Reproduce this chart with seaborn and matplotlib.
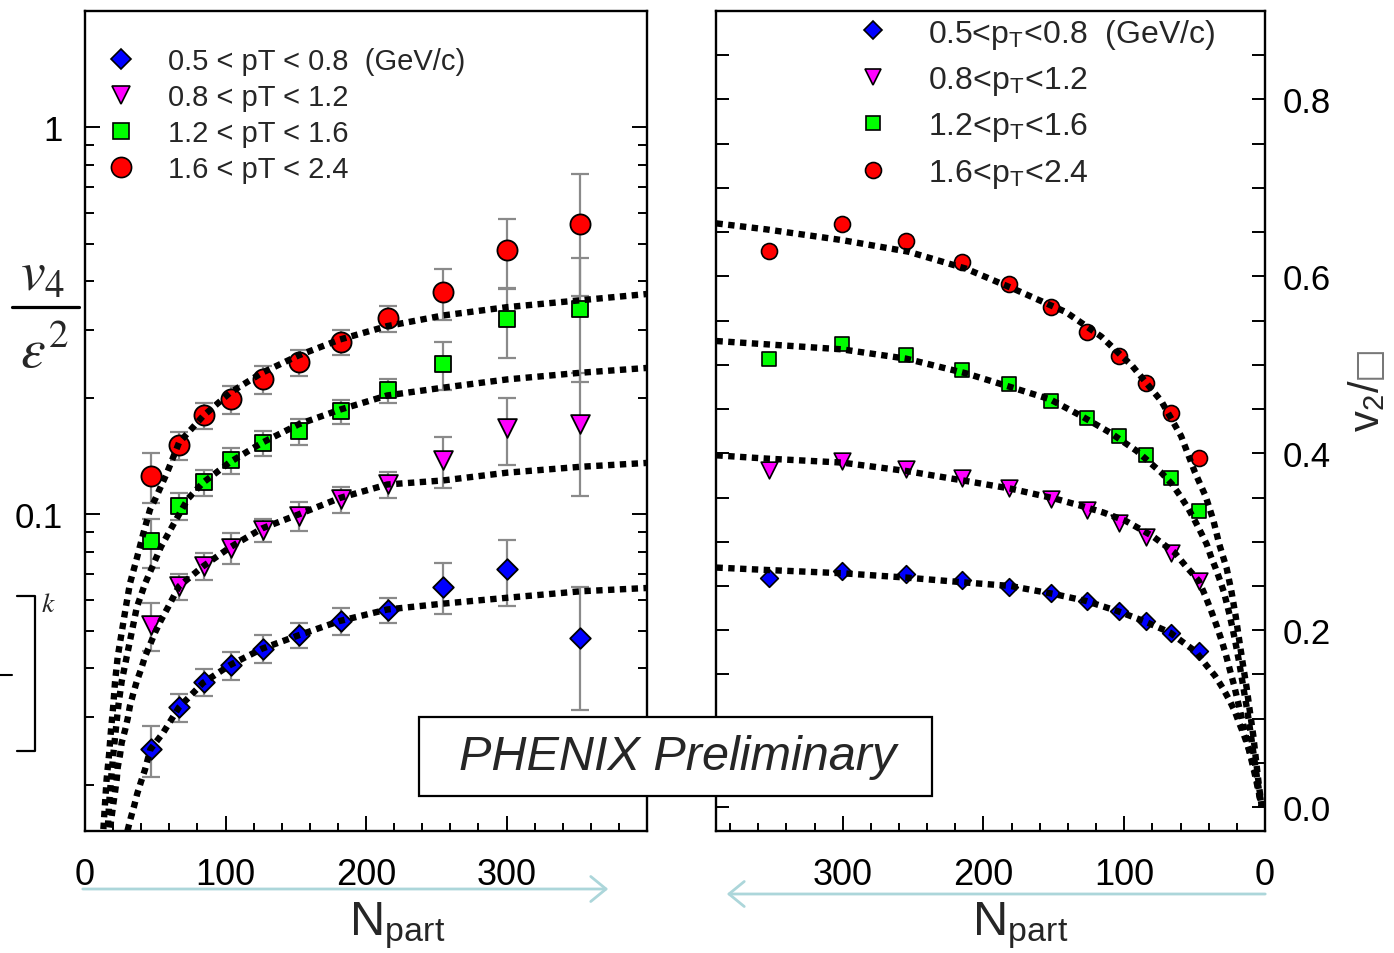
import matplotlib
matplotlib.use("Agg")
import matplotlib.pyplot as plt
import seaborn as sns
from matplotlib.lines import Line2D
from matplotlib.patches import Rectangle, FancyArrowPatch
from matplotlib.ticker import FixedLocator, MultipleLocator, LogLocator, NullFormatter

# ---------------------------------------------------------------- data
# centrality classes (number of participants)
npart = [47, 67, 84.5, 104, 126.5, 152, 182, 215.5, 255, 300.5, 352.5]

pt_bins = ["0.5 < pT < 0.8  (GeV/c)", "0.8 < pT < 1.2", "1.2 < pT < 1.6", "1.6 < pT < 2.4"]
pt_bins_r = [r"0.5<p$_\mathregular{T}$<0.8  (GeV/c)", r"0.8<p$_\mathregular{T}$<1.2",
             r"1.2<p$_\mathregular{T}$<1.6", r"1.6<p$_\mathregular{T}$<2.4"]

# v4 / eps^2 (left panel) with statistical errors
v4_blue = [0.0247, 0.0317, 0.0369, 0.0408, 0.0450, 0.0487, 0.0530, 0.0566, 0.0650, 0.0721, 0.0480]
v4_blue_err = [0.0037, 0.0026, 0.0029, 0.0034, 0.0037, 0.0036, 0.0042, 0.0042, 0.0098, 0.0140, 0.0168]
v4_mag = [0.0517, 0.0652, 0.0736, 0.0819, 0.0909, 0.0990, 0.1093, 0.1195, 0.1379, 0.1675, 0.1715]
v4_mag_err = [0.0074, 0.0051, 0.0060, 0.0074, 0.0062, 0.0086, 0.0086, 0.0094, 0.0210, 0.0330, 0.0600]
v4_green = [0.0852, 0.1049, 0.1210, 0.1379, 0.1526, 0.1639, 0.1846, 0.2091, 0.2441, 0.3190, 0.3405]
v4_green_err = [0.0124, 0.0084, 0.0092, 0.0104, 0.0113, 0.0130, 0.0132, 0.0146, 0.0350, 0.0650, 0.1200]
v4_red = [0.1254, 0.1508, 0.1803, 0.1982, 0.2233, 0.2470, 0.2782, 0.3209, 0.3747, 0.4810, 0.5615]
v4_red_err = [0.0185, 0.0124, 0.0136, 0.0160, 0.0180, 0.0190, 0.0206, 0.0240, 0.0560, 0.0980, 0.1950]

# v2 / eps (right panel)
v2_blue = [0.1766, 0.1974, 0.2105, 0.2218, 0.2331, 0.2426, 0.2494, 0.2565, 0.2633, 0.2670, 0.2595]
v2_mag = [0.2557, 0.2870, 0.3059, 0.3209, 0.3359, 0.3480, 0.3612, 0.3718, 0.3819, 0.3913, 0.3811]
v2_green = [0.3348, 0.3725, 0.3981, 0.4195, 0.4403, 0.4591, 0.4780, 0.4938, 0.5107, 0.5240, 0.5070]
v2_red = [0.3951, 0.4452, 0.4791, 0.5096, 0.5367, 0.5650, 0.5910, 0.6158, 0.6395, 0.6588, 0.6282]

# fit curves, left panel
fitL_red_n = [402, 353.0, 300.4, 254.8, 215.0, 181.5, 152.0, 126.0, 103.2, 84.0, 66.9, 58.4, 50.5, 46.3,
              41.5, 36.8, 32.0, 29.0, 26.1, 23.3, 21.4, 20.1, 18.5, 17.1, 15.4, 14.2, 13.0, 12.5]
fitL_red = [0.3718, 0.3578, 0.3433, 0.3267, 0.3066, 0.2832, 0.2575, 0.2323, 0.2063, 0.1795, 0.1532, 0.1282,
            0.1106, 0.1030, 0.0893, 0.0768, 0.0663, 0.0574, 0.0495, 0.0429, 0.0370, 0.0320, 0.0277, 0.0239,
            0.0207, 0.0178, 0.0152, 0.0141]
fitL_green_n = [402, 353.0, 300.4, 254.8, 215.2, 181.8, 152.0, 126.0, 103.2, 84.0, 73.3, 63.6, 54.1, 42.7,
                36.8, 33.2, 29.7, 26.1, 23.7, 21.9, 20.1, 18.5, 17.1, 16.2, 15.7]
fitL_green = [0.2394, 0.2324, 0.2233, 0.2126, 0.2030, 0.1867, 0.1709, 0.1532, 0.1365, 0.1208, 0.1098, 0.0952,
              0.0825, 0.0662, 0.0574, 0.0495, 0.0429, 0.0370, 0.0320, 0.0277, 0.0239, 0.0207, 0.0178, 0.0154,
              0.0141]
fitL_mag_n = [402, 353.0, 300.4, 254.8, 215.2, 181.8, 152.0, 126.0, 103.2, 84.0, 66.9, 58.9, 54.1, 49.8, 46.3,
              42.7, 39.9, 36.8, 34.4, 32.0, 30.4, 28.5, 26.1, 24.9, 23.3, 22.6, 21.4, 20.1, 19.0, 17.8, 17.2]
fitL_mag = [0.1360, 0.1328, 0.1282, 0.1224, 0.1195, 0.1104, 0.1000, 0.0920, 0.0822, 0.0734, 0.0652, 0.0574,
            0.0533, 0.0495, 0.0461, 0.0429, 0.0398, 0.0370, 0.0345, 0.0320, 0.0297, 0.0277, 0.0257, 0.0239,
            0.0222, 0.0207, 0.0192, 0.0178, 0.0166, 0.0154, 0.0145]
fitL_blue_n = [402, 353.0, 300.4, 254.8, 215.2, 181.0, 152.0, 126.2, 103.2, 84.0, 66.8, 55.7, 46.5, 42.7,
               39.9, 37.2, 34.9, 32.5, 30.4, 29.5]
fitL_blue = [0.0646, 0.0633, 0.0609, 0.0588, 0.0568, 0.0530, 0.0487, 0.0450, 0.0408, 0.0367, 0.0317, 0.0273,
             0.0247, 0.0219, 0.0204, 0.0190, 0.0176, 0.0164, 0.0153, 0.0147]

# fit curves, right panel
fitR_red_n = [389.7, 354.1, 300.5, 253.3, 212.4, 177.7, 141.5, 116.3, 94.2, 73.7, 59.6, 49.7, 42.1, 36.7,
              32.5, 27.2, 23.7, 20.8, 18.3, 15.8, 13.0, 10.7, 8.3, 6.4, 4.5, 2.3]
fitR_red = [0.6599, 0.6531, 0.6410, 0.6279, 0.6087, 0.5853, 0.5597, 0.5319, 0.4986, 0.4591, 0.4195, 0.3782,
            0.3511, 0.3243, 0.2972, 0.2697, 0.2426, 0.2155, 0.1887, 0.1624, 0.1345, 0.1077, 0.0806, 0.0534,
            0.0268, 0.0]
fitR_green_n = [389.7, 354.1, 300.5, 255.0, 212.4, 179.3, 152.7, 130.4, 110.1, 91.1, 73.7, 65.6, 59.9, 54.5,
                49.7, 45.5, 41.4, 38.4, 35.0, 32.0, 29.1, 24.9, 21.3, 18.1, 15.3, 12.4, 9.9, 7.5, 5.0, 2.3]
fitR_green = [0.5269, 0.5232, 0.5175, 0.5070, 0.4904, 0.4742, 0.4610, 0.4421, 0.4234, 0.4026, 0.3782, 0.3642,
              0.3511, 0.3375, 0.3235, 0.3104, 0.2972, 0.2833, 0.2697, 0.2565, 0.2426, 0.2158, 0.1887, 0.1616,
              0.1345, 0.1073, 0.0802, 0.0531, 0.0260, 0.0]
fitR_mag_n = [389.7, 354.1, 300.5, 255.0, 212.4, 180.9, 149.3, 130.4, 114.7, 98.9, 80.1, 64.3, 56.4, 47.0,
              42.6, 38.4, 34.5, 30.9, 27.7, 24.9, 22.0, 19.5, 17.0, 14.6, 12.1, 9.6, 7.1, 4.6, 2.3]
fitR_mag = [0.3977, 0.3940, 0.3895, 0.3800, 0.3687, 0.3601, 0.3488, 0.3405, 0.3330, 0.3235, 0.3066, 0.2878,
            0.2727, 0.2557, 0.2395, 0.2226, 0.2056, 0.1887, 0.1718, 0.1548, 0.1379, 0.1209, 0.1040, 0.0870,
            0.0701, 0.0531, 0.0362, 0.0181, 0.0]
fitR_blue_n = [389.7, 354.1, 300.5, 255.0, 212.4, 180.9, 149.3, 127.3, 105.1, 86.3, 67.5, 54.8, 49.0, 41.9,
               35.5, 30.0, 25.4, 21.3, 18.3, 14.9, 11.9, 9.4, 7.1, 5.5, 4.0, 2.3]
fitR_blue = [0.2708, 0.2681, 0.2644, 0.2595, 0.2539, 0.2500, 0.2407, 0.2331, 0.2218, 0.2105, 0.1974, 0.1823,
             0.1755, 0.1608, 0.1484, 0.1345, 0.1213, 0.1077, 0.0949, 0.0814, 0.0675, 0.0542, 0.0410, 0.0271,
             0.0136, 0.0]

# ---------------------------------------------------------------- style
sns.set_theme(style="ticks")
plt.rcParams["font.family"] = ["Liberation Sans", "DejaVu Sans"]
plt.rcParams["mathtext.fontset"] = "stix"
plt.rcParams["axes.edgecolor"] = "black"
plt.rcParams["xtick.color"] = "black"
plt.rcParams["ytick.color"] = "black"
SANS = ["Liberation Sans", "DejaVu Sans"]

W, H = 1394, 954


def fx(x):
    return x / W


def fy(y):
    return 1 - y / H


fig = plt.figure(figsize=(W / 100, H / 100), dpi=100)
axL = fig.add_axes([fx(85), fy(832), (647 - 85) / W, (832 - 12) / H])
axR = fig.add_axes([fx(716), fy(832), (1265 - 716) / W, (832 - 12) / H])

colors = {"blue": "#0000ff", "mag": "#ff00ff", "green": "#00ff00", "red": "#ff0000"}
series_L = [("blue", "D", 10.5, v4_blue, v4_blue_err, fitL_blue_n, fitL_blue),
            ("mag", "v", 13.5, v4_mag, v4_mag_err, fitL_mag_n, fitL_mag),
            ("green", "s", 11.5, v4_green, v4_green_err, fitL_green_n, fitL_green),
            ("red", "o", 14.5, v4_red, v4_red_err, fitL_red_n, fitL_red)]
series_R = [("blue", "D", 9.0, v2_blue, fitR_blue_n, fitR_blue),
            ("mag", "v", 12.0, v2_mag, fitR_mag_n, fitR_mag),
            ("green", "s", 9.5, v2_green, fitR_green_n, fitR_green),
            ("red", "o", 11.5, v2_red, fitR_red_n, fitR_red)]

DOT = (0, (1, 0.85))
FIT_LW = 4.6

# ---------------------------------------------------------------- left panel
for key, mk, ms, vals, err, fn, fv in series_L:
    axL.errorbar(npart, vals, yerr=err, fmt="none", ecolor="#8a8a8a", elinewidth=1.6,
                 capsize=6.5, capthick=1.6, zorder=2)
    sns.scatterplot(x=npart, y=vals, marker=mk, s=ms ** 2, color=colors[key], edgecolor="black",
                    linewidth=1.3, ax=axL, zorder=3, legend=False)
for key, mk, ms, vals, err, fn, fv in series_L:
    sns.lineplot(x=fn, y=fv, ax=axL, color="black", lw=FIT_LW, linestyle=DOT, estimator=None,
                 sort=False, zorder=4, legend=False)

axL.set_yscale("log")
axL.set_xlim(0, 400)
axL.set_ylim(0.0152, 2.0)
axL.yaxis.set_major_locator(FixedLocator([0.1, 1.0]))
axL.set_yticks([0.1, 1.0], ["0.1", "1"], fontsize=25)
axL.yaxis.set_minor_locator(LogLocator(base=10, subs=[2, 3, 4, 5, 6, 7, 8, 9]))
axL.yaxis.set_minor_formatter(NullFormatter())
axL.set_xticks([0, 100, 200, 300], ["0", "100", "200", "300"], fontsize=26)
axL.xaxis.set_minor_locator(MultipleLocator(20))

# ---------------------------------------------------------------- right panel
for key, mk, ms, vals, fn, fv in series_R:
    sns.scatterplot(x=npart, y=vals, marker=mk, s=ms ** 2, color=colors[key], edgecolor="black",
                    linewidth=1.2, ax=axR, zorder=3, legend=False)
for key, mk, ms, vals, fn, fv in series_R:
    sns.lineplot(x=fn, y=fv, ax=axR, color="black", lw=FIT_LW, linestyle=DOT, estimator=None,
                 sort=False, zorder=4, legend=False)

axR.set_xlim(390, 0)
axR.set_ylim(-0.027, 0.9)
axR.set_yticks([0.0, 0.2, 0.4, 0.6, 0.8], ["0.0", "0.2", "0.4", "0.6", "0.8"], fontsize=25)
axR.yaxis.set_minor_locator(MultipleLocator(0.05))
axR.set_xticks([0, 100, 200, 300], ["0", "100", "200", "300"], fontsize=26)
axR.xaxis.set_minor_locator(MultipleLocator(20))

for ax in (axL, axR):
    ax.set_xlabel("")
    ax.set_ylabel("")
    for sp in ax.spines.values():
        sp.set_linewidth(1.7)
        sp.set_visible(True)
    ax.tick_params(axis="x", which="both", direction="in", top=False, bottom=True, width=1.4, pad=19)
    ax.tick_params(axis="x", which="major", length=10.5)
    ax.tick_params(axis="x", which="minor", length=6)

axL.tick_params(axis="y", which="both", direction="in", left=True, right=True, width=1.4, pad=16)
axL.tick_params(axis="y", which="major", length=10.5)
axL.tick_params(axis="y", which="minor", length=6.5)
axR.tick_params(axis="y", which="both", direction="in", left=True, right=True, labelleft=False,
                labelright=True, width=1.4, length=9.5, pad=13)

# ---------------------------------------------------------------- legends
def handles(series, scale):
    out = []
    for s in series:
        out.append(Line2D([], [], linestyle="none", marker=s[1], markersize=s[2] * scale,
                          markerfacecolor=colors[s[0]], markeredgecolor="black", markeredgewidth=1.2))
    return out


legL = axL.legend(handles(series_L, 1.0), pt_bins, loc="upper left",
                  bbox_to_anchor=((106.4 - 85) / 562, (832 - 48.5) / 820), frameon=False, fontsize=21,
                  handlelength=1.0, handletextpad=1.11, labelspacing=0.27, borderpad=0, borderaxespad=0)
legR = axR.legend(handles(series_R, 1.0), pt_bins_r, loc="upper left",
                  bbox_to_anchor=((857 - 716) / 549, (832 - 17.5) / 820), frameon=False,
                  prop={"family": SANS, "size": 23},
                  handlelength=1.0, handletextpad=1.23, labelspacing=0.42, borderpad=0, borderaxespad=0)

# ---------------------------------------------------------------- axis titles and annotations
fig.text(fx(43), fy(290), r"$v_4$", fontsize=40, ha="center", va="baseline")
fig.text(fx(44), fy(368), r"$\varepsilon^2$", fontsize=40, ha="center", va="baseline")
fig.add_artist(Line2D([fx(12), fx(79)], [fy(308), fy(308)], transform=fig.transFigure,
                      color="black", lw=2.3))

# bracket with exponent k
fig.add_artist(Line2D([fx(17), fx(35), fx(35), fx(17)], [fy(597), fy(597), fy(752), fy(752)],
                      transform=fig.transFigure, color="black", lw=1.6))
fig.add_artist(Line2D([fx(0), fx(12)], [fy(676), fy(676)], transform=fig.transFigure,
                      color="black", lw=1.5))
fig.text(fx(48), fy(612), r"$k$", fontsize=20, ha="center", va="baseline")

fig.text(fx(397), fy(926), r"N$_\mathregular{part}$", fontsize=35, ha="center", va="center")
fig.text(fx(1020), fy(926), r"N$_\mathregular{part}$", fontsize=35, ha="center", va="center")

fig.text(fx(1368), fy(432), r"v$_\mathregular{2}$/", fontsize=30, rotation=90, ha="center",
         va="bottom")
fig.text(fx(1368), fy(345), "\u25a1", fontsize=26, rotation=90, ha="center", va="top",
         color="#777777", fontfamily=["DejaVu Sans"])

ARROW_C = "#acd6da"
fig.add_artist(FancyArrowPatch((fx(80), fy(890)), (fx(611), fy(890)), transform=fig.transFigure,
                               arrowstyle="->,head_length=0.55,head_width=0.45", mutation_scale=20,
                               color=ARROW_C, lw=2.0))
fig.add_artist(FancyArrowPatch((fx(1268), fy(895)), (fx(724), fy(895)), transform=fig.transFigure,
                               arrowstyle="->,head_length=0.55,head_width=0.45", mutation_scale=20,
                               color=ARROW_C, lw=2.0))

box = Rectangle((fx(419), fy(797)), (932 - 419) / W, (797 - 718) / H, transform=fig.transFigure,
                facecolor="white", edgecolor="black", lw=1.6, zorder=5)
fig.add_artist(box)
fig.text(fx(678), fy(758), "PHENIX Preliminary", fontsize=35, style="italic", ha="center",
         va="center", zorder=6)

fig.savefig("out.png", dpi=100)
